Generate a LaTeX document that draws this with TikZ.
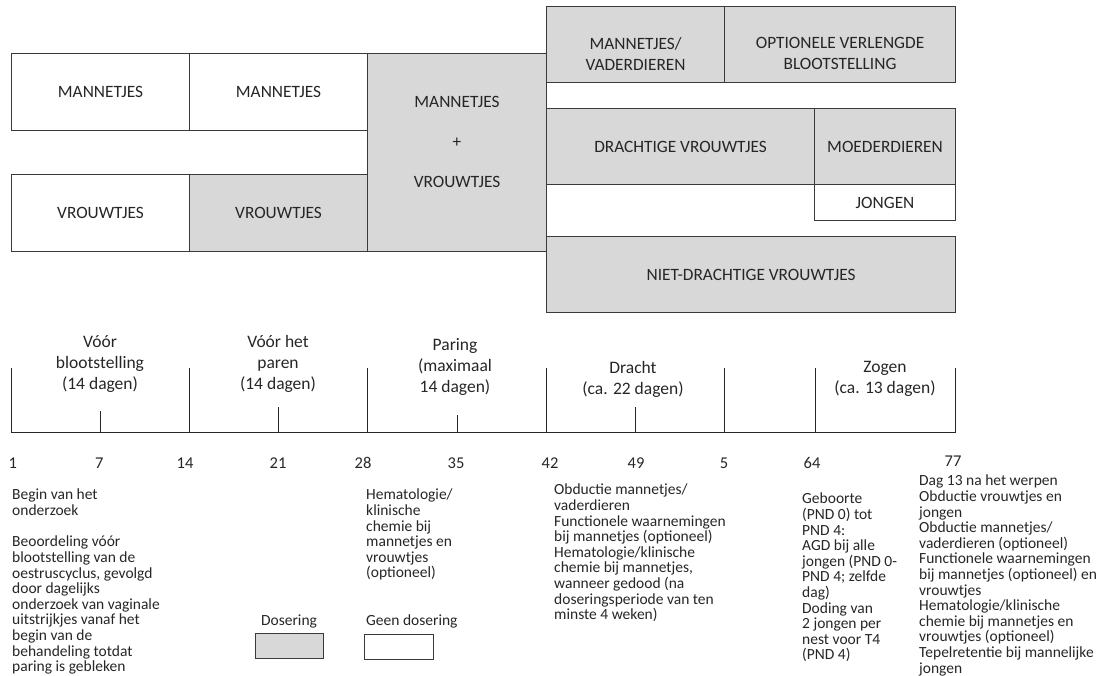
\documentclass[tikz,border=0pt]{standalone}
\usepackage{fontspec}
\setmainfont{Carlito}
\definecolor{boxgrey}{HTML}{D8D8D8}
\definecolor{edgecol}{HTML}{3A3A3A}
\definecolor{txtcol}{HTML}{262626}
\begin{document}
\begin{tikzpicture}[x=1pt,y=-1pt,
  box/.style={draw=edgecol, line width=1.1pt, fill=white, inner sep=0pt, anchor=north west,
    font=\fontsize{17.3}{21}\selectfont, text=txtcol, align=center},
  greybox/.style={box, fill=boxgrey},
  lbl/.style={font=\fontsize{17.3}{21}\selectfont, text=txtcol, align=center, inner sep=0pt},
  phase/.style={font=\fontsize{17.5}{21}\selectfont, text=txtcol, align=center, inner sep=0pt},
  num/.style={font=\fontsize{16.5}{20}\selectfont, text=txtcol, inner sep=0pt},
  note/.style={font=\fontsize{15.5}{15.6}\selectfont, text=txtcol, align=left, inner sep=0pt, anchor=north west},
  axis/.style={draw=black!85, line width=1pt},
  legbox/.style={draw=edgecol, line width=1.1pt, inner sep=0pt, anchor=north west}
]
\useasboundingbox (0,0) rectangle (1111,676);

% ---- boxes, left part
\node[box, minimum width=178pt, minimum height=77pt] (m1) at (11,53) {MANNETJES};
\node[box, minimum width=178pt, minimum height=77pt] (m2) at (189,53) {MANNETJES};
\node[greybox, minimum width=179pt, minimum height=198pt] (mv) at (367,53) {};
\node[lbl] (mvl) at ([yshift=11pt]mv.center) {MANNETJES\\[19pt]+\\[19pt]VROUWTJES};
\node[box, minimum width=178pt, minimum height=77pt] (v1) at (11,174) {VROUWTJES};
\node[greybox, minimum width=178pt, minimum height=77pt] (v2) at (189,174) {VROUWTJES};

% ---- boxes, right part
\node[greybox, minimum width=178pt, minimum height=76pt] (mvad) at (546,6) {};
\node[lbl] (mvadl) at ([yshift=-9pt]mvad.center) {MANNETJES/\\VADERDIEREN};
\node[greybox, minimum width=231pt, minimum height=76pt] (opt) at (724,6) {};
\node[lbl] (optl) at ([yshift=-9pt]opt.center) {OPTIONELE VERLENGDE\\BLOOTSTELLING};
\node[greybox, minimum width=268pt, minimum height=76pt] (dr) at (546,108) {DRACHTIGE VROUWTJES};
\node[greybox, minimum width=141pt, minimum height=76pt] (moe) at (814,108) {MOEDERDIEREN};
\node[box, minimum width=141pt, minimum height=36pt] (jong) at (814,184) {JONGEN};
\node[greybox, minimum width=409pt, minimum height=76pt] (niet) at (546,236) {NIET-DRACHTIGE VROUWTJES};

% ---- timeline
\foreach \n/\x in {0/11,1/189,2/367,3/546,4/724,5/815,6/955}{
  \coordinate (b\n) at (\x,432.7);
  \coordinate (u\n) at (\x,368);
}
\coordinate (mb1) at (100,432.7);  \coordinate (mu1) at (100,411);
\coordinate (mb2) at (278,432.7);  \coordinate (mu2) at (278,407);
\coordinate (mb3) at (457,432.7);  \coordinate (mu3) at (457,415);
\coordinate (mb4) at (635,432.7);  \coordinate (mu4) at (635,407);
\draw[axis] (b0) -- (b6);
\foreach \n in {0,...,6}{ \draw[axis] (b\n) -- (u\n); }
\foreach \n in {1,...,4}{ \draw[axis] (mb\n) -- (mu\n); }

\node[phase] (p1) at (100,364) {Vóór\\blootstelling\\(14 dagen)};
\node[phase] (p2) at (278,364) {Vóór het\\paren\\(14 dagen)};
\node[phase] (p3) at (455,367) {Paring\\(maximaal\\14 dagen)};
\node[phase] (p4) at (633,379) {Dracht\\(ca. 22 dagen)};
\node[phase] (p5) at (885,379) {Zogen\\(ca. 13 dagen)};

\node[num] (n1) at (12.7,463) {1};
\node[num] (n7) at (99.3,463) {7};
\node[num] (n14) at (185,463) {14};
\node[num] (n21) at (278,463) {21};
\node[num] (n28) at (363,463) {28};
\node[num] (n35) at (456,463) {35};
\node[num] (n42) at (550,463) {42};
\node[num] (n49) at (636,463) {49};
\node[num] (n5) at (724,463) {5};
\node[num] (n64) at (812,463) {64};
\node[num] (n77) at (953,461) {77};

% ---- notes
\node[note] (ta1) at (12,489) {Begin van het\\onderzoek};
\node[note] (ta2) at (12,536) {Beoordeling vóór\\blootstelling van de\\oestruscyclus, gevolgd\\door dagelijks\\onderzoek van vaginale\\uitstrijkjes vanaf het\\begin van de\\behandeling totdat\\paring is gebleken};
\node[note] (tb) at (366,489) {Hematologie/\\klinische\\chemie bij\\mannetjes en\\vrouwtjes\\(optioneel)};
\node[note] (tc) at (554,484) {Obductie mannetjes/\\vaderdieren\\Functionele waarnemingen\\bij mannetjes (optioneel)\\Hematologie/klinische\\chemie bij mannetjes,\\wanneer gedood (na\\doseringsperiode van ten\\minste 4 weken)};
\node[note] (td) at (802,493) {Geboorte\\(PND 0) tot\\PND 4:\\AGD bij alle\\jongen (PND 0-\\PND 4; zelfde\\dag)\\Doding van\\2 jongen per\\nest voor T4\\(PND 4)};
\node[note] (te) at (919,475) {Dag 13 na het werpen\\Obductie vrouwtjes en\\jongen\\Obductie mannetjes/\\vaderdieren (optioneel)\\Functionele waarnemingen\\bij mannetjes (optioneel) en\\vrouwtjes\\Hematologie/klinische\\chemie bij mannetjes en\\vrouwtjes (optioneel)\\Tepelretentie bij mannelijke\\jongen};

% ---- legend
\node[note, anchor=center, align=center] (ld) at (289,621.7) {Dosering};
\node[legbox, fill=boxgrey, minimum width=68pt, minimum height=24.5pt] (ldb) at (255,633) {};
\node[note, anchor=west] (lg) at (366,621.7) {Geen dosering};
\node[legbox, fill=white, minimum width=69pt, minimum height=25pt] (lgb) at (364,634) {};
\end{tikzpicture}
\end{document}
